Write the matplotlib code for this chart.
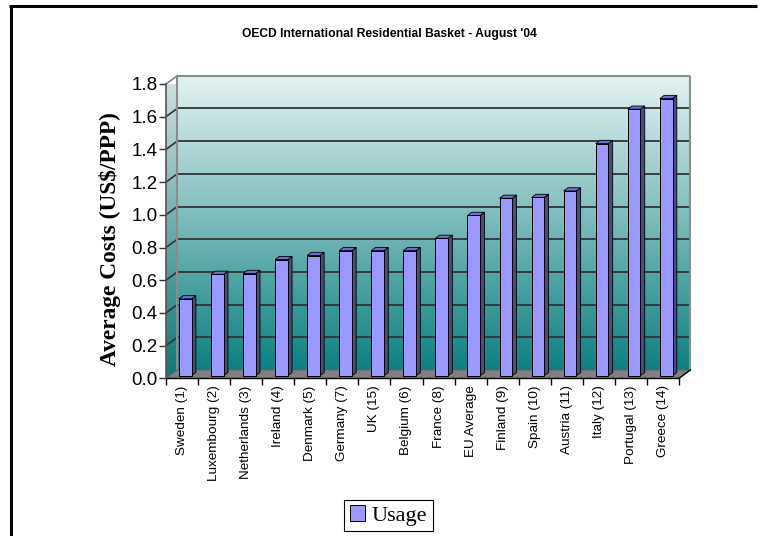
import numpy as np
import matplotlib
matplotlib.use("Agg")
import matplotlib.pyplot as plt
from matplotlib.patches import Polygon
from matplotlib.lines import Line2D

plt.rcParams["font.family"] = ["Liberation Sans", "DejaVu Sans"]

# ---- data -----------------------------------------------------------------
countries = ["Sweden (1)", "Luxembourg (2)", "Netherlands (3)", "Ireland (4)",
             "Denmark (5)", "Germany (7)", "UK (15)", "Belgium (6)",
             "France (8)", "EU Average", "Finland (9)", "Spain (10)",
             "Austria (11)", "Italy (12)", "Portugal (13)", "Greece (14)"]
usage = [0.47, 0.62, 0.625, 0.71, 0.735, 0.765, 0.765, 0.765,
         0.84, 0.98, 1.085, 1.09, 1.13, 1.42, 1.63, 1.695]
y_ticks = [0.0, 0.2, 0.4, 0.6, 0.8, 1.0, 1.2, 1.4, 1.6, 1.8]

TITLE = "OECD International Residential Basket - August '04"
YLABEL = r"Average Costs (US\$/PPP)"

BAR, BAR_SIDE, BAR_TOP = "#9999ff", "#4a4a88", "#7070cc"
WALL_TOP, WALL_BOT = np.array([229, 243, 243]) / 255, np.array([14, 128, 128]) / 255

W, H = 762, 536
fig = plt.figure(figsize=(W / 100, H / 100), dpi=100, facecolor="white")
ax = fig.add_axes([166 / W, 1 - 378.3 / H, 513 / W, 294.3 / H])
n = len(countries)
ymax = y_ticks[-1]
ax.set_xlim(0, n)
ax.set_ylim(0, ymax)
ax.patch.set_visible(False)

# pixel -> data conversion so the fake 3D depth is a fixed pixel offset
kx = ax.bbox.width / n
ky = ax.bbox.height / ymax


def px(dx, dy):
    return dx / kx, dy / ky


wall_dx, wall_dy = px(11.3, 8.3)
bar_dx, bar_dy = px(3.2, 2.6)
dep_dx, dep_dy = px(4.3, 3.2)

# ---- walls & floor ---------------------------------------------------------
t = np.linspace(0, 1, 256)[:, None, None]
grad = WALL_TOP * (1 - t) + WALL_BOT * t
ax.imshow(grad, extent=(wall_dx, n + wall_dx, wall_dy, ymax + wall_dy),
          aspect="auto", zorder=0, clip_on=False, interpolation="bilinear")

side = Polygon([(0, 0), (0, ymax), (wall_dx, ymax + wall_dy), (wall_dx, wall_dy)],
               closed=True, facecolor="none", edgecolor="none", zorder=0)
ax.add_patch(side)
im = ax.imshow(grad * 0.93, extent=(0, wall_dx, 0, ymax + wall_dy),
               aspect="auto", zorder=0, interpolation="bilinear")
im.set_clip_path(side)

for v in y_ticks[1:-1]:
    ax.plot([0, wall_dx], [v, v + wall_dy], color="#333333", lw=1.2, zorder=1,
            clip_on=False)
ax.hlines([v + wall_dy for v in y_ticks[1:-1]], wall_dx, n + wall_dx,
          colors="#333333", lw=1.3, zorder=1, clip_on=False)
ax.hlines(ymax + wall_dy, wall_dx, n + wall_dx, colors="#8c8c8c", lw=1.5,
          zorder=1, clip_on=False)
ax.vlines([wall_dx, n + wall_dx], wall_dy, ymax + wall_dy, colors="#8c8c8c",
          lw=1.5, zorder=1, clip_on=False)
ax.plot([0, wall_dx], [ymax, ymax + wall_dy], color="#8c8c8c", lw=1.3,
        zorder=1, clip_on=False)

floor = Polygon([(0, 0), (n, 0), (n + wall_dx, wall_dy), (wall_dx, wall_dy)],
                closed=True, facecolor="#808080", edgecolor="#666666", lw=0.8,
                zorder=2, clip_on=False)
ax.add_patch(floor)
ax.plot([n, n + wall_dx], [0, wall_dy], color="black", lw=1, zorder=2,
        clip_on=False)

# ---- bars ------------------------------------------------------------------
x = np.arange(n) + 0.5
w = 0.395
bars = ax.bar(x + bar_dx, usage, width=w, bottom=bar_dy, color=BAR,
              edgecolor="black", lw=0.7, zorder=4, clip_on=False, label="Usage")
for xi, v in zip(x + bar_dx, usage):
    xl, xr, top = xi - w / 2, xi + w / 2, bar_dy + v
    ax.add_patch(Polygon([(xr, bar_dy), (xr, top), (xr + dep_dx, top + dep_dy),
                          (xr + dep_dx, bar_dy + dep_dy)], closed=True,
                         facecolor=BAR_SIDE, edgecolor="black", lw=0.6,
                         zorder=3, clip_on=False))
    ax.add_patch(Polygon([(xl, top), (xr, top), (xr + dep_dx, top + dep_dy),
                          (xl + dep_dx, top + dep_dy)], closed=True,
                         facecolor=BAR_TOP, edgecolor="black", lw=0.6,
                         zorder=3, clip_on=False))

# ---- axes ------------------------------------------------------------------
for s in ("top", "right"):
    ax.spines[s].set_visible(False)
ax.spines["left"].set_color("#555555")
ax.spines["left"].set_linewidth(1.2)
ax.spines["bottom"].set_color("black")
ax.spines["bottom"].set_linewidth(1.0)
ax.spines["left"].set_zorder(5)
ax.spines["bottom"].set_zorder(5)

ax.set_yticks(y_ticks, labels=[f"{v:.1f}" for v in y_ticks])
ax.tick_params(axis="y", length=5, width=1, color="#333333", pad=1,
               labelsize=13.5)
ax.set_xticks(x, labels=countries, rotation=90)
ax.set_xticks(np.arange(n + 1), minor=True)
ax.tick_params(axis="x", which="major", length=0, pad=5, labelsize=9.7)
ax.tick_params(axis="x", which="minor", length=5, width=1, color="black")
for lab in ax.get_xticklabels():
    lab.set_va("top")

fig.text(110 / W, 1 - 239 / H, YLABEL, rotation=90, ha="center", va="center",
         family="Liberation Serif", weight="bold", size=16.8)
fig.text(389.5 / W, 1 - 36.7 / H, TITLE, ha="center", va="baseline",
         weight="bold", size=8.7)

leg = fig.legend(handles=[bars], labels=["Usage"], loc="center",
                 bbox_to_anchor=(388.5 / W, 1 - 515.5 / H),
                 prop={"family": "Liberation Serif", "size": 16},
                 frameon=True, fancybox=False, edgecolor="black", framealpha=1,
                 handlelength=0.7, handleheight=0.7, handletextpad=0.3,
                 borderpad=0.25, borderaxespad=0)
leg.get_frame().set_linewidth(0.8)

# outer frame (top and left edges)
fig.add_artist(Line2D([10.5 / W, 10.5 / W], [0, 1 - 5.5 / H], color="black",
                      lw=2.2, solid_capstyle="butt"))
fig.add_artist(Line2D([9 / W, 757 / W], [1 - 5.5 / H, 1 - 5.5 / H],
                      color="black", lw=2.2, solid_capstyle="butt"))

fig.savefig("out.png", dpi=100, facecolor="white")
plt.close(fig)
